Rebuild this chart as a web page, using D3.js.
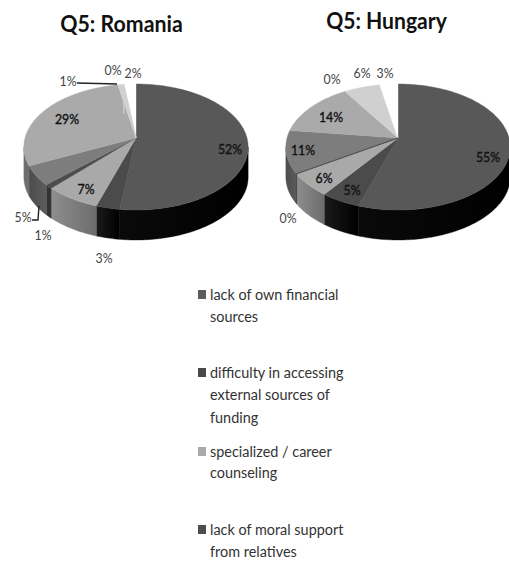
<!DOCTYPE html>
<html>
<head>
<meta charset="utf-8">
<script src="https://cdn.jsdelivr.net/npm/d3@7/dist/d3.min.js"></script>
<style>
  html, body { margin: 0; padding: 0; background: #fff; }
  svg { display: block; }
  text { font-family: Lato, "Open Sans", sans-serif; }
</style>
</head>
<body>
<svg id="chart" width="509" height="561"></svg>
<script>
// Survey answers to question 5, in percent, clockwise from twelve o'clock.
const categories = [
  "lack of own financial sources",
  "difficulty in accessing external sources of funding",
  "specialized / career counseling",
  "lack of moral support from relatives",
  "answer 5", "answer 6", "answer 7", "answer 8", "answer 9"
];
const romaniaValues = [52, 3, 7, 1, 5, 29, 1, 0, 2];
const hungaryValues = [55, 5, 6, 0, 11, 14, 0, 6, 3];

// Fill of each slice's top face and of its rim, left and right ends.
const topColors   = ["#585858", "#4b4b4b", "#a9a9a9", "#4c4c4c", "#7d7d7d", "#aaaaaa", "#d0d0d0", "#d0d0d0", "#ffffff"];
const rimLeft     = ["#0a0a0a", "#1a1a1a", "#8e8e8e", "#333333", "#4c4c4c", "#6e6e6e", "#888888", "#999999", "#bbbbbb"];
const rimRight    = ["#000000", "#000000", "#6c6c6c", "#333333", "#5c5c5c", "#6e6e6e", "#888888", "#999999", "#bbbbbb"];

// Label placement per pie: [text, x, y, inside the pie?]
const romaniaLabels = [
  ["52%", 230, 148, true], ["29%", 67, 118, true], ["7%", 86, 188, true],
  ["5%", 23, 216, false], ["1%", 43, 234, false], ["3%", 104, 257, false],
  ["1%", 68, 80, false], ["0%", 113, 69, false], ["2%", 133, 72, false]
];
const hungaryLabels = [
  ["55%", 488, 156, true], ["14%", 331, 116, true], ["11%", 303, 149, true],
  ["6%", 324, 177, true], ["5%", 352, 189, true],
  ["0%", 288, 217, false], ["0%", 332, 78, false], ["6%", 362, 72, false], ["3%", 385, 72, false]
];

// Wrapped legend entries with the baseline of each line.
const legendEntries = [
  { key: 0, color: "#5c5c5c", lines: ["lack of own financial", "sources"], baselines: [300, 322] },
  { key: 1, color: "#4a4a4a", lines: ["difficulty in accessing", "external sources of", "funding"], baselines: [378, 400, 423] },
  { key: 2, color: "#aaaaaa", lines: ["specialized / career", "counseling"], baselines: [457, 478] },
  { key: 3, color: "#4d4d4d", lines: ["lack of moral support", "from relatives"], baselines: [535, 557] }
];

const svg = d3.select("#chart");
const defs = svg.append("defs");

const pieLayout = d3.pie().sort(null).value(d => d).startAngle(0).endAngle(2 * Math.PI);

// Tilted disc: a homography sending the unit circle to an ellipse whose
// near half is larger than its far half, with the apex off the ellipse centre.
function tiltedDisc(cx) {
  const apexY = 138, k = -1 / 7, yGain = 42, xGain = 111;
  return (angle, r = 1) => {
    const X = r * Math.sin(angle), Y = -r * Math.cos(angle);
    const w = 1 + k * Y;
    return [cx + xGain * X / w, (yGain * Y + apexY) / w];
  };
}

const line = d3.line();
const arcAngles = (a0, a1) => {
  const n = Math.max(2, Math.ceil((a1 - a0) / 0.02));
  return d3.range(n + 1).map(i => a0 + (a1 - a0) * i / n);
};

function drawPie(id, values, cx) {
  const project = tiltedDisc(cx);
  const depth = 30;
  const arcs = pieLayout(values);
  const g = svg.append("g").attr("class", id);
  // The rim shows only between the two points where the outline turns back.
  const rimStart = Math.acos(-1 / 7), rimEnd = 2 * Math.PI - rimStart;

  arcs.forEach((a, i) => {
    const a0 = Math.max(a.startAngle, rimStart), a1 = Math.min(a.endAngle, rimEnd);
    if (a1 <= a0) return;
    const top = arcAngles(a0, a1).map(t => project(t));
    const bottom = top.map(([x, y]) => [x, y + depth]).reverse();
    const gradId = `${id}-rim-${i}`;
    const grad = defs.append("linearGradient").attr("id", gradId)
      .attr("gradientUnits", "userSpaceOnUse")
      .attr("x1", top[top.length - 1][0]).attr("x2", top[0][0]).attr("y1", 0).attr("y2", 0);
    grad.append("stop").attr("offset", 0).attr("stop-color", rimLeft[i]);
    grad.append("stop").attr("offset", 1).attr("stop-color", rimRight[i]);
    g.append("path")
      .attr("d", line(top.concat(bottom)) + "Z")
      .attr("fill", `url(#${gradId})`)
      .attr("stroke", `url(#${gradId})`).attr("stroke-width", 0.4);
  });

  arcs.forEach((a, i) => {
    if (a.endAngle <= a.startAngle) return;
    const rim = arcAngles(a.startAngle, a.endAngle).map(t => project(t));
    g.append("path")
      .attr("d", line([project(0, 0), ...rim]) + "Z")
      .attr("fill", topColors[i])
      .attr("stroke", topColors[i]).attr("stroke-width", 0.4);
  });

  // A zero-valued slice still leaves a hairline between differently shaded neighbours.
  arcs.forEach((a, i) => {
    if (a.endAngle > a.startAngle || topColors[i] === topColors[i + 1]) return;
    const p = project(a.startAngle);
    g.append("path")
      .attr("d", line([project(0, 0), p, [p[0], p[1] + depth]]))
      .attr("fill", "none")
      .attr("stroke", topColors[i]).attr("stroke-width", 1.2);
  });
}

drawPie("romania", romaniaValues, 136);
drawPie("hungary", hungaryValues, 398);

// Leader lines for the narrow Romanian slices.
const leaderPaths = [
  [[77, 83], [117, 84]],
  [[32, 220], [38, 220], [39, 206]]
];
svg.selectAll("path.leader").data(leaderPaths).join("path")
  .attr("class", "leader")
  .attr("d", line).attr("fill", "none")
  .attr("stroke", "#222").attr("stroke-width", 1.4);

// Narrows a text run to the proportions of the chart's condensed typeface.
function condense(selection, factor) {
  selection.each(function () {
    d3.select(this)
      .attr("textLength", this.getComputedTextLength() * factor)
      .attr("lengthAdjust", "spacingAndGlyphs");
  });
}

// Percentage labels
[romaniaLabels, hungaryLabels].forEach(labels => {
  svg.append("g").selectAll("text").data(labels).join("text")
    .attr("x", d => d[1]).attr("y", d => d[2])
    .attr("text-anchor", "middle").attr("dominant-baseline", "central")
    .attr("font-size", 14)
    .attr("fill", d => d[3] ? "#111" : "#444")
    .attr("stroke", d => d[3] ? "#111" : "none")
    .attr("stroke-width", 0.35)
    .text(d => d[0])
    .call(condense, 0.88);
});

// Titles
svg.append("text").attr("x", 121.5).attr("y", 32).attr("text-anchor", "middle")
  .attr("font-size", 22).attr("font-weight", 700).attr("fill", "#111").text("Q5: Romania")
  .call(condense, 0.97);
svg.append("text").attr("x", 386.5).attr("y", 29).attr("text-anchor", "middle")
  .attr("font-size", 22).attr("font-weight", 700).attr("fill", "#111").text("Q5: Hungary")
  .call(condense, 0.96);

// Legend
const legend = svg.append("g").selectAll("g").data(legendEntries).join("g");
legend.append("rect")
  .attr("x", 198).attr("y", d => d.baselines[0] - 10)
  .attr("width", 8).attr("height", 9)
  .attr("fill", d => d.color);
legend.each(function (d) {
  d3.select(this).selectAll("text").data(d.lines).join("text")
    .attr("x", 210).attr("y", (_, i) => d.baselines[i])
    .attr("font-size", 15.5).attr("fill", "#333")
    .text(t => t)
    .call(condense, 0.93);
});
</script>
</body>
</html>
